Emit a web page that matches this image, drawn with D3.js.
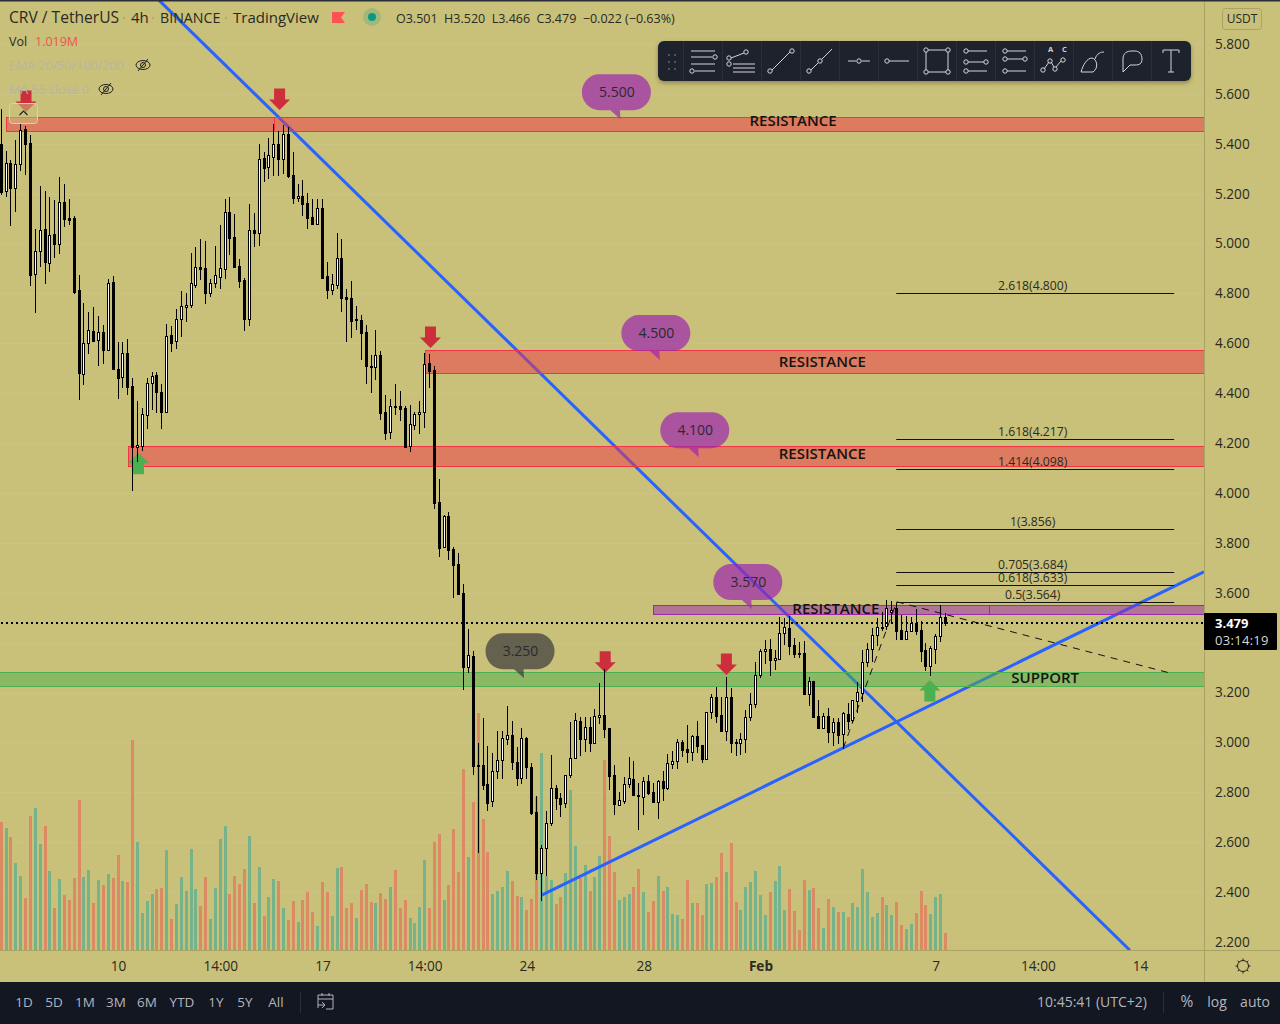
<!DOCTYPE html>
<html>
<head>
<meta charset="utf-8">
<script src="https://cdnjs.cloudflare.com/ajax/libs/d3/7.8.5/d3.min.js"></script>
<style>
html,body{margin:0;padding:0;background:#c9c07a;overflow:hidden}
svg{display:block}
text{font-family:"Open Sans",sans-serif}
</style>
</head>
<body>
<svg id="chart" width="1280" height="1024"></svg>
<script>
// 4h candles, one value per bar
var opens = [
5.399,5.210,5.323,5.222,5.319,5.459,5.403,4.878,4.970,5.058,
4.922,5.038,4.998,5.166,5.102,5.102,4.813,4.477,4.601,4.649,
4.613,4.645,4.573,4.845,4.497,4.465,4.561,4.429,4.184,4.188,
4.312,4.441,4.473,4.404,4.324,4.633,4.609,4.697,4.745,4.753,
4.833,4.906,4.902,4.801,4.841,4.866,4.898,5.126,5.026,4.910,
4.853,4.697,5.054,5.042,5.343,5.306,5.347,5.399,5.339,5.439,
5.274,5.182,5.190,5.162,5.106,5.078,5.142,4.870,4.813,4.833,
4.942,4.785,4.781,4.693,4.693,4.645,4.509,4.505,4.553,4.324,
4.244,4.348,4.348,4.340,4.188,4.272,4.316,4.324,4.521,4.493,
3.963,3.783,3.907,3.775,3.715,3.599,3.302,3.346,2.909,2.909,
2.833,2.765,2.885,2.929,3.013,3.029,2.921,2.857,3.017,2.901,
2.721,2.476,2.576,2.677,2.817,2.777,2.757,2.869,2.937,3.086,
3.013,3.061,2.997,3.102,3.110,3.057,2.869,2.749,2.765,2.833,
2.853,2.789,2.781,2.845,2.801,2.761,2.845,2.817,2.913,2.925,
3.001,2.973,2.961,3.025,2.989,2.933,3.122,3.182,3.110,3.045,
3.182,3.001,2.997,3.013,3.102,3.154,3.270,3.366,3.374,3.330,
3.334,3.438,3.458,3.390,3.358,3.358,3.194,3.246,3.106,3.057,
3.106,3.041,3.082,3.033,3.114,3.090,3.166,3.198,3.322,3.374,
3.430,3.462,3.466,3.522,3.539,3.450,3.414,3.446,3.478,3.450,
3.370,3.306,3.374,3.426,3.501];
var highs = [
5.539,5.371,5.335,5.415,5.483,5.471,5.435,5.058,5.230,5.210,
5.186,5.174,5.266,5.238,5.178,5.110,4.874,4.761,4.725,4.745,
4.709,4.673,4.857,4.870,4.605,4.605,4.617,4.461,4.368,4.340,
4.461,4.485,4.485,4.437,4.677,4.669,4.737,4.809,4.801,4.962,
4.986,5.018,5.010,4.857,4.990,5.074,5.178,5.186,5.118,4.938,
4.861,5.158,5.122,5.399,5.367,5.423,5.479,5.451,5.475,5.467,
5.367,5.238,5.254,5.202,5.178,5.178,5.178,4.926,4.878,5.042,
5.018,4.817,4.849,4.749,4.713,4.673,4.553,4.653,4.569,4.392,
4.376,4.437,4.408,4.348,4.352,4.324,4.368,4.561,4.557,4.509,
4.056,3.911,3.923,3.783,3.759,3.635,3.454,3.366,2.997,3.098,
2.985,2.957,3.045,3.045,3.146,3.086,2.981,3.057,3.021,2.917,
2.785,2.588,2.725,2.949,2.829,2.797,2.869,3.082,3.118,3.102,
3.102,3.102,3.134,3.238,3.294,3.057,2.909,2.801,2.861,2.941,
2.925,2.837,2.861,2.869,2.837,2.849,2.885,2.953,2.965,3.013,
3.009,3.069,3.029,3.086,2.989,3.122,3.194,3.222,3.182,3.262,
3.218,3.013,3.037,3.130,3.198,3.322,3.374,3.410,3.414,3.370,
3.502,3.498,3.506,3.418,3.402,3.406,3.262,3.246,3.170,3.118,
3.138,3.098,3.098,3.122,3.158,3.170,3.242,3.370,3.398,3.458,
3.498,3.522,3.571,3.567,3.559,3.510,3.506,3.502,3.534,3.486,
3.398,3.386,3.434,3.551,3.520];
var lows = [
5.194,5.186,5.070,5.126,5.290,5.274,4.829,4.721,4.906,4.837,
4.886,4.942,4.958,5.066,5.074,4.797,4.372,4.433,4.557,4.609,
4.509,4.517,4.569,4.493,4.376,4.421,4.392,4.008,4.124,4.168,
4.256,4.332,4.320,4.256,4.324,4.565,4.577,4.625,4.685,4.741,
4.821,4.853,4.757,4.785,4.821,4.817,4.857,4.954,4.906,4.821,
4.649,4.669,4.986,4.990,5.246,5.258,5.270,5.270,5.278,5.262,
5.158,5.166,5.110,5.058,5.078,5.078,4.861,4.777,4.793,4.817,
4.725,4.605,4.621,4.653,4.533,4.437,4.400,4.453,4.292,4.212,
4.216,4.312,4.288,4.180,4.164,4.252,4.236,4.260,4.421,3.935,
3.743,3.779,3.731,3.579,3.591,3.210,3.278,2.869,2.556,2.809,
2.725,2.741,2.853,2.853,2.989,2.889,2.825,2.833,2.853,2.709,
2.448,2.364,2.464,2.665,2.729,2.701,2.737,2.857,2.933,2.945,
2.961,2.961,2.997,3.074,3.017,2.809,2.709,2.745,2.753,2.817,
2.789,2.649,2.709,2.789,2.761,2.693,2.765,2.809,2.893,2.893,
2.941,2.917,2.925,2.957,2.917,2.933,3.094,3.078,3.041,3.005,
2.957,2.945,2.949,2.957,3.086,3.138,3.258,3.314,3.266,3.290,
3.330,3.390,3.350,3.338,3.338,3.194,3.146,3.098,3.053,3.057,
2.997,2.985,2.993,2.973,3.049,3.078,3.118,3.162,3.302,3.322,
3.386,3.446,3.450,3.482,3.410,3.414,3.410,3.442,3.430,3.322,
3.286,3.266,3.314,3.402,3.466];
var closes = [
5.206,5.323,5.222,5.319,5.455,5.399,4.874,4.970,5.054,4.926,
5.034,4.998,5.166,5.098,5.094,4.805,4.481,4.601,4.653,4.609,
4.645,4.573,4.841,4.497,4.461,4.561,4.425,4.184,4.192,4.316,
4.441,4.469,4.404,4.324,4.629,4.601,4.697,4.749,4.753,4.841,
4.906,4.898,4.801,4.841,4.874,4.902,5.126,5.022,4.906,4.849,
4.697,5.054,5.042,5.339,5.302,5.355,5.399,5.339,5.439,5.270,
5.182,5.190,5.158,5.102,5.078,5.142,4.861,4.813,4.837,4.942,
4.781,4.777,4.689,4.697,4.641,4.509,4.505,4.553,4.320,4.240,
4.348,4.344,4.336,4.184,4.276,4.316,4.324,4.517,4.489,3.959,
3.779,3.907,3.771,3.711,3.595,3.302,3.350,2.905,2.905,2.829,
2.757,2.885,2.929,3.017,3.029,2.921,2.857,3.017,2.901,2.717,
2.476,2.576,2.677,2.817,2.777,2.753,2.869,2.937,3.090,3.013,
3.061,2.997,3.106,3.110,3.053,2.865,2.753,2.769,2.833,2.857,
2.789,2.785,2.845,2.797,2.761,2.845,2.817,2.917,2.925,3.001,
2.969,2.961,3.025,2.985,2.933,3.122,3.182,3.106,3.045,3.182,
2.997,2.997,3.013,3.102,3.154,3.270,3.366,3.374,3.330,3.338,
3.438,3.462,3.386,3.354,3.354,3.194,3.246,3.102,3.057,3.106,
3.041,3.082,3.029,3.118,3.086,3.170,3.202,3.322,3.374,3.430,
3.462,3.458,3.539,3.531,3.446,3.414,3.446,3.478,3.446,3.366,
3.306,3.378,3.426,3.502,3.479];
// volume in millions
var volumes = [
7.68,7.32,6.78,5.22,4.44,3.12,8.04,8.52,6.36,7.44,
4.74,2.52,4.26,3.30,3.00,4.32,9.00,4.38,4.80,2.82,
4.20,3.90,4.56,4.32,5.70,4.14,4.08,12.60,6.48,2.22,
2.94,3.36,3.66,3.72,6.00,1.86,2.76,4.38,3.54,6.06,
3.66,2.64,4.38,1.86,3.72,6.66,7.44,3.36,4.44,3.96,
4.86,6.84,2.82,4.98,2.04,3.18,4.26,4.14,2.52,1.80,
2.94,1.68,3.00,3.48,2.28,1.44,4.08,3.48,2.04,4.92,
4.98,2.52,2.82,1.92,3.60,3.96,2.88,2.82,3.42,3.06,
3.78,4.80,2.52,3.00,1.92,1.62,2.58,5.40,2.52,6.48,
6.96,3.00,3.90,7.26,4.68,10.86,5.58,8.88,14.22,7.86,
5.88,3.36,3.54,3.78,4.74,4.14,3.24,3.18,2.40,3.06,
9.20,11.82,4.44,4.20,2.76,3.18,4.62,9.60,6.24,4.30,
5.10,3.54,4.38,5.64,11.40,6.84,4.68,3.00,3.18,3.36,
3.78,4.86,3.48,2.28,2.94,4.44,3.54,3.78,2.16,2.10,
1.86,4.20,2.82,2.82,2.10,3.96,4.02,4.38,5.82,4.68,
6.42,2.88,2.40,3.78,4.08,4.74,3.30,2.10,3.48,4.14,
5.04,2.40,3.66,2.34,1.20,4.20,3.60,3.72,2.52,1.32,
3.06,2.58,2.28,2.28,1.98,2.82,2.58,4.86,3.48,1.98,
2.22,3.18,2.70,2.10,2.88,1.50,1.26,1.56,2.22,3.54,
2.70,2.16,3.18,3.36,1.02];

var priceTicks = [5.8,5.6,5.4,5.2,5.0,4.8,4.6,4.4,4.2,4.0,3.8,3.6,3.2,3.0,2.8,2.6,2.4,2.2];
var timeBars = [24,45,66,87,108,132,156,192,213,234];
var timeLabels = ['10','14:00','17','14:00','24','28','Feb','7','14:00','14'];
var lastPrice = 3.479;

// drawings on the chart: [from bar, to bar, top price, bottom price]
var redZones = [[1,56,5.506,5.452],[56,260,5.506,5.452],[87,260,4.572,4.483],[26,260,4.189,4.107]];
var purpleZones = [[134,203,3.551,3.513],[203,260,3.551,3.513]];
var greenZones = [[-5,260,3.281,3.225]];
var zoneTitles = ['RESISTANCE','RESISTANCE','RESISTANCE','RESISTANCE','SUPPORT'];
var zoneTitleBars = [162.7,168.7,168.7,171.5,214.5];
var zoneTitlePrices = [5.471,4.505,4.136,3.514,3.238];
var blueLines = [[32.4,5.976,231.9,2.167],[111.05,2.388,247.1,3.684]];
var fibLevels = [4.800,4.217,4.098,3.856,3.684,3.633,3.564];
var fibLabels = ['2.618(4.800)','1.618(4.217)','1.414(4.098)','1(3.856)','0.705(3.684)','0.618(3.633)','0.5(3.564)'];
var fibPath = [[173,2.977],[184,3.564],[240,3.279]];
var downArrowBars = [5.1,57.2,88.2,124.1,149];
var downArrowPrices = [5.527,5.535,4.581,3.279,3.270];
var upArrowBars = [28.2,190.8];
var upArrowPrices = [4.161,3.250];
var bubbleLabels = ['5.500','4.500','4.100','3.570','3.250'];
var bubbleBars = [126.4,134.5,142.5,153.4,106.6];
var bubblePrices = [5.607,4.641,4.252,3.643,3.366];

var svg = d3.select('#chart');
var paneW = 1204, paneH = 950;
var bg = '#c9c07a', ink = '#2a2a22';

var x = d3.scaleLinear().domain([0,194]).range([1.2,945.4]);
var y = d3.scaleLinear().domain([2.2,5.8]).range([942,44]);
var yVol = d3.scaleLinear().domain([0,12.6]).range([950,740]);
function px(i){ return Math.floor(x(i)); }

svg.append('rect').attr('width',1280).attr('height',1024).attr('fill',bg);
svg.append('defs').append('clipPath').attr('id','pane').append('rect').attr('width',paneW).attr('height',paneH);

// grid
var allTicks = priceTicks.concat([3.4]);
svg.append('g').selectAll('line').data(allTicks).enter().append('line')
  .attr('x1',0).attr('x2',paneW)
  .attr('y1',function(d){return Math.round(y(d))+0.5;}).attr('y2',function(d){return Math.round(y(d))+0.5;})
  .attr('stroke','#ffffff').attr('stroke-opacity',0.07);

// volume
svg.append('g').selectAll('rect').data(volumes).enter().append('rect')
  .attr('x',function(d,i){return px(i)-1;}).attr('width',3)
  .attr('y',function(d){return Math.round(yVol(d));})
  .attr('height',function(d){return 950-Math.round(yVol(d));})
  .attr('fill',function(d,i){return closes[i]>=opens[i]?'#77b38a':'#dc8a64';});

var draw = svg.append('g').attr('clip-path','url(#pane)');

// trend lines
draw.append('g').selectAll('line').data(blueLines).enter().append('line')
  .attr('x1',function(d){return x(d[0]);}).attr('y1',function(d){return y(d[1]);})
  .attr('x2',function(d){return x(d[2]);}).attr('y2',function(d){return y(d[3]);})
  .attr('stroke','#2962ff').attr('stroke-width',3);

function zones(list,fill,stroke){
  draw.append('g').selectAll('rect').data(list).enter().append('rect')
    .attr('x',function(d){return Math.round(x(d[0]))+0.5;})
    .attr('width',function(d){return Math.round(x(d[1]))-Math.round(x(d[0]));})
    .attr('y',function(d){return Math.round(y(d[2]))+0.5;})
    .attr('height',function(d){return Math.round(y(d[3]))-Math.round(y(d[2]));})
    .attr('fill',fill).attr('stroke',stroke).attr('stroke-width',1);
}
zones(redZones,'rgba(242,54,69,0.5)','#f23645');
zones(purpleZones,'rgba(156,39,176,0.5)','#9c27b0');
zones(greenZones,'rgba(76,175,80,0.5)','#4caf50');

draw.append('g').selectAll('text').data(zoneTitles).enter().append('text')
  .attr('x',function(d,i){return x(zoneTitleBars[i]);})
  .attr('y',function(d,i){return y(zoneTitlePrices[i]);})
  .attr('text-anchor','middle').attr('font-size',15).attr('font-weight',600).attr('fill','#14140f')
  .text(function(d){return d;});

// fib levels
var fibX1 = x(184)-0.5, fibX2 = x(241);
draw.append('g').selectAll('line').data(fibLevels).enter().append('line')
  .attr('x1',fibX1).attr('x2',fibX2)
  .attr('y1',function(d){return Math.round(y(d))+0.5;}).attr('y2',function(d){return Math.round(y(d))+0.5;})
  .attr('stroke','#111').attr('stroke-width',1);
draw.append('g').selectAll('text').data(fibLabels).enter().append('text')
  .attr('x',(fibX1+fibX2)/2-2.5)
  .attr('y',function(d,i){return Math.round(y(fibLevels[i]))-3;})
  .attr('text-anchor','middle').attr('font-size',12.2).attr('fill',ink)
  .text(function(d){return d;});
draw.append('path').datum(fibPath)
  .attr('d',d3.line().x(function(d){return x(d[0]);}).y(function(d){return y(d[1]);}))
  .attr('fill','none').attr('stroke','#111').attr('stroke-width',1).attr('stroke-dasharray','7 6');

// arrows, anchored on the tip
function arrow(sel,dir){
  var d = dir;
  sel.attr('d','M0,0L-10.5,'+(-10.5*d)+'H-5.5V'+(-21.5*d)+'H5.5V'+(-10.5*d)+'H10.5Z');
}
draw.append('g').selectAll('path').data(downArrowBars).enter().append('path')
  .call(arrow,1)
  .attr('transform',function(d,i){return 'translate('+x(d)+','+y(downArrowPrices[i])+')';})
  .attr('fill','#cc2e3c');
draw.append('g').selectAll('path').data(upArrowBars).enter().append('path')
  .call(arrow,-1)
  .attr('transform',function(d,i){return 'translate('+x(d)+','+y(upArrowPrices[i])+')';})
  .attr('fill','#4caf50');

// price callouts
var bubble = draw.append('g').selectAll('g').data(bubbleLabels).enter().append('g')
  .attr('transform',function(d,i){return 'translate('+x(bubbleBars[i])+','+y(bubblePrices[i])+')';});
bubble.append('path')
  .attr('d','M-17,-18H17A17.5,18 0 0 1 17,18H3.5L4,27L-6,18H-17A17.5,18 0 0 1 -17,-18Z')
  .attr('fill',function(d){return d==='3.250'?'rgba(66,66,66,0.75)':'rgba(156,39,176,0.7)';});
bubble.append('text').attr('x',0.5).attr('text-anchor','middle').attr('dy',5).attr('font-size',14).attr('fill','#2a2a2a')
  .text(function(d){return d;});

// candles
function bodyTop(i){ return Math.round(y(Math.max(opens[i],closes[i]))); }
function bodyBot(i){ return Math.round(y(Math.min(opens[i],closes[i]))); }
var candles = svg.append('g').attr('clip-path','url(#pane)').selectAll('g').data(opens).enter().append('g');
candles.each(function(d,i){
  var g = d3.select(this);
  var yh = Math.round(y(highs[i])), yl = Math.round(y(lows[i]));
  g.append('rect').attr('x',px(i)).attr('width',1).attr('y',yh).attr('height',Math.max(1,yl-yh)).attr('fill','#000');
  g.append('rect').attr('x',px(i)-1).attr('width',3).attr('y',bodyTop(i))
    .attr('height',Math.max(2,bodyBot(i)-bodyTop(i)+1)).attr('fill','#000');
  if(closes[i]>opens[i] && bodyBot(i)-bodyTop(i)>1){
    g.append('rect').attr('x',px(i)).attr('width',1).attr('y',bodyTop(i)+1)
      .attr('height',bodyBot(i)-bodyTop(i)-1).attr('fill','#fff');
  }
});

// last price line
svg.append('line').attr('x1',1).attr('x2',paneW)
  .attr('y1',Math.round(y(lastPrice))).attr('y2',Math.round(y(lastPrice)))
  .attr('stroke','#000').attr('stroke-width',2).attr('stroke-dasharray','2 3');

// axes
svg.append('line').attr('x1',paneW+0.5).attr('x2',paneW+0.5).attr('y1',0).attr('y2',982).attr('stroke','#a9a366');
svg.append('line').attr('x1',0).attr('x2',1280).attr('y1',950.5).attr('y2',950.5).attr('stroke','#a9a366');

var yAxis = svg.append('g').attr('transform','translate('+paneW+',0)')
  .call(d3.axisRight(y).tickValues(priceTicks).tickFormat(d3.format('.3f')).tickSize(0).tickPadding(11));
yAxis.select('.domain').remove();
yAxis.selectAll('text').attr('font-size',13.6).attr('fill',ink).style('font-family','"Open Sans",sans-serif');

var xAxis = svg.append('g').attr('transform','translate(0,950)')
  .call(d3.axisBottom(x).tickValues(timeBars)
    .tickFormat(function(d){return timeLabels[timeBars.indexOf(d)];}).tickSize(0).tickPadding(11));
xAxis.select('.domain').remove();
xAxis.selectAll('text').attr('font-size',13.6).attr('fill',ink).style('font-family','"Open Sans",sans-serif')
  .attr('font-weight',function(d){return d===156?700:400;});

// last price tag
svg.append('rect').attr('x',1204).attr('y',613).attr('width',73).attr('height',37).attr('rx',1).attr('fill','#000');
svg.append('text').attr('x',1215).attr('y',628).attr('font-size',13).attr('font-weight',700).attr('fill','#fff').text(d3.format('.3f')(lastPrice));
svg.append('text').attr('x',1215).attr('y',645).attr('font-size',13).attr('letter-spacing',0.3).attr('fill','#d6d6d6').text('03:14:19');

// USDT box
svg.append('rect').attr('x',1222.5).attr('y',8.5).attr('width',39).attr('height',21).attr('rx',3).attr('fill','none').attr('stroke','#a9a366');
svg.append('text').attr('x',1242).attr('y',23).attr('text-anchor','middle').attr('font-size',12).attr('fill',ink).text('USDT');
// gear
var gear = svg.append('g').attr('transform','translate(1243,966)').attr('fill','none').attr('stroke','#222');
gear.append('circle').attr('r',5.5);
d3.range(8).forEach(function(k){
  var a = k*Math.PI/4;
  gear.append('line').attr('x1',5.5*Math.cos(a)).attr('y1',5.5*Math.sin(a)).attr('x2',7.5*Math.cos(a)).attr('y2',7.5*Math.sin(a));
});

// legend
var head = svg.append('g').attr('fill',ink);
svg.append('rect').attr('width',1280).attr('height',1.5).attr('fill','#2a2e39');
[['CRV / TetherUS',9,15.6],['4h',131,15],['BINANCE',160,14.2],['TradingView',233,15]].forEach(function(t){
  head.append('text').attr('x',t[1]).attr('y',22.5).attr('font-size',t[2]).text(t[0]);
});
[124,153,226].forEach(function(dx){
  svg.append('circle').attr('cx',dx).attr('cy',18).attr('r',1).attr('fill','#aaa46a');
});
svg.append('path').attr('d','M332,12H345L341,17.5L345,23H332Z').attr('fill','#ff5252');
svg.append('circle').attr('cx',372).attr('cy',17).attr('r',9).attr('fill','rgba(8,153,129,0.2)');
svg.append('circle').attr('cx',372).attr('cy',17).attr('r',4).attr('fill','#089981');
head.append('text').attr('x',396).attr('y',23).attr('font-size',12.5).attr('xml:space','preserve').style('white-space','pre').text('O3.501  H3.520  L3.466  C3.479  \u22120.022 (\u22120.63%)');
head.append('text').attr('x',9).attr('y',46).attr('font-size',12.5).text('Vol');
head.append('text').attr('x',35).attr('y',46).attr('font-size',12.5).attr('fill','#ef5350').text('1.019M');
head.append('text').attr('x',9).attr('y',70).attr('font-size',12.5).attr('fill','#b5b7a6').text('EMA 20/50/100/200');
head.append('text').attr('x',9).attr('y',94).attr('font-size',12.5).attr('fill','#b5b7a6').text('MA 55 close 0');
[[143,65],[106,89]].forEach(function(p){
  var e = svg.append('g').attr('transform','translate('+p[0]+','+p[1]+')').attr('fill','none').attr('stroke','#222');
  e.append('ellipse').attr('rx',7).attr('ry',4.5);
  e.append('circle').attr('r',2.5);
  e.append('line').attr('x1',-5).attr('y1',6).attr('x2',5).attr('y2',-6);
});
// collapse button
svg.append('rect').attr('x',9.5).attr('y',103.5).attr('width',28).attr('height',20).attr('rx',3)
  .attr('fill','rgba(201,192,122,0.55)').attr('stroke','#d9d4a6');
svg.append('path').attr('d','M19.5,115L23.5,111L27.5,115').attr('fill','none').attr('stroke','#222').attr('stroke-width',1.2);

// drawing toolbar
var tb = svg.append('g');
tb.append('rect').attr('x',658).attr('y',41).attr('width',533).attr('height',40).attr('rx',6).attr('fill','#1e222d')
  .style('filter','drop-shadow(0 2px 2px rgba(0,0,0,.3))');
[[668,54],[674,54],[668,61],[674,61],[668,68],[674,68]].forEach(function(p){
  tb.append('rect').attr('x',p[0]).attr('y',p[1]).attr('width',2).attr('height',2).attr('fill','#50535e');
});
var iconX = [703,742,781,820,859,898,937,976,1015,1054,1093,1132,1171];
iconX.forEach(function(c){
  tb.append('line').attr('x1',c-19.5).attr('x2',c-19.5).attr('y1',41).attr('y2',81).attr('stroke','#2a2e39');
});
var icons = [
  {l:[[-12,-10,12,-10],[-12,-4,9,-4],[-12,3,12,3],[-8,10,12,10]],c:[[12,-4],[-11,10]]},
  {l:[[-9,3,13,3],[-9,7,13,7],[-9,11,13,11],[-11,-3,2,-8]],c:[[-13,-3],[4,-9],[-13,3]]},
  {l:[[-9,9,9,-9]],c:[[-11,10],[11,-10]]},
  {l:[[-9,9,-2,2],[2,-2,12,-12]],c:[[-11,10],[0,0]]},
  {l:[[-11,0,-3,0],[3,0,11,0]],c:[[0,0]]},
  {l:[[-9,0,11,0]],c:[[-11,0]]},
  {l:[[-9,-11,9,-11],[-9,11,9,11],[-11,-9,-11,9],[11,-9,11,9]],c:[[-11,-11],[11,-11],[-11,11],[11,11]]},
  {l:[[-8,-10,11,-10],[-8,1,8,1],[-8,10,11,10]],c:[[-10,-10],[-10,1],[10,1],[-10,10]]},
  {l:[[-8,-10,11,-10],[-8,-2,8,-2],[-8,10,11,10]],c:[[-10,-10],[-10,-2],[10,-2],[-10,10]]},
  {l:[[-10,8,-5,1],[-3,1,0,6],[2,6,7,0]],c:[[-11,9],[-4,0],[1,8],[9,-1]]},
  {p:'M-12,11H0C6,7 4,-2 -1,-3C-6,-3 -10,4 -12,11ZM2,-2C4,-8 8,-9 11,-9'},
  {p:'M-9,11V-2C-9,-8 -5,-10 0,-10H3C7,-10 10,-7 10,-2C10,3 7,4 3,4H-2Z'},
  {l:[[-8,-11,8,-11],[0,-11,0,11],[-3,11,3,11],[-8,-11,-8,-8],[8,-11,8,-8]]}
];
icons.forEach(function(ic,k){
  var g = tb.append('g').attr('transform','translate('+iconX[k]+',61)').attr('fill','none').attr('stroke','#d1d4dc').attr('stroke-width',1);
  (ic.l||[]).forEach(function(s){ g.append('line').attr('x1',s[0]).attr('y1',s[1]).attr('x2',s[2]).attr('y2',s[3]); });
  (ic.c||[]).forEach(function(s){ g.append('circle').attr('cx',s[0]).attr('cy',s[1]).attr('r',2.2); });
  if(ic.p){ g.append('path').attr('d',ic.p); }
});
tb.append('text').attr('x',1048).attr('y',52).attr('font-size',7.5).attr('font-weight',700).attr('fill','#d1d4dc').text('A');
tb.append('text').attr('x',1062).attr('y',52).attr('font-size',7.5).attr('font-weight',700).attr('fill','#d1d4dc').text('C');

// bottom bar
svg.append('rect').attr('y',982).attr('width',1280).attr('height',42).attr('fill','#131722');
[['1D',24],['5D',54],['1M',85],['3M',116],['6M',147],['YTD',182],['1Y',216],['5Y',245],['All',276]].forEach(function(t){
  svg.append('text').attr('x',t[1]).attr('y',1007).attr('text-anchor','middle').attr('font-size',13.5).attr('fill','#b2b5be').text(t[0]);
});
svg.append('line').attr('x1',300.5).attr('x2',300.5).attr('y1',992).attr('y2',1013).attr('stroke','#2a2e39');
var cal = svg.append('g').attr('fill','none').attr('stroke','#b2b5be');
cal.append('path').attr('d','M318,1008V995H333V1009H326M318,999H333M322,993V996M329,993V996M318,1005H325M322,1002L325,1005L322,1008');
[['10:45:41 (UTC+2)',1147,'end',14],['%',1187,'middle',15.5],['log',1217,'middle',14],['auto',1255,'middle',14]].forEach(function(t){
  svg.append('text').attr('x',t[1]).attr('y',1007).attr('text-anchor',t[2]).attr('font-size',t[3]).attr('fill','#b2b5be').text(t[0]);
});
svg.append('line').attr('x1',1163.5).attr('x2',1163.5).attr('y1',992).attr('y2',1013).attr('stroke','#2a2e39');
</script>
</body>
</html>
